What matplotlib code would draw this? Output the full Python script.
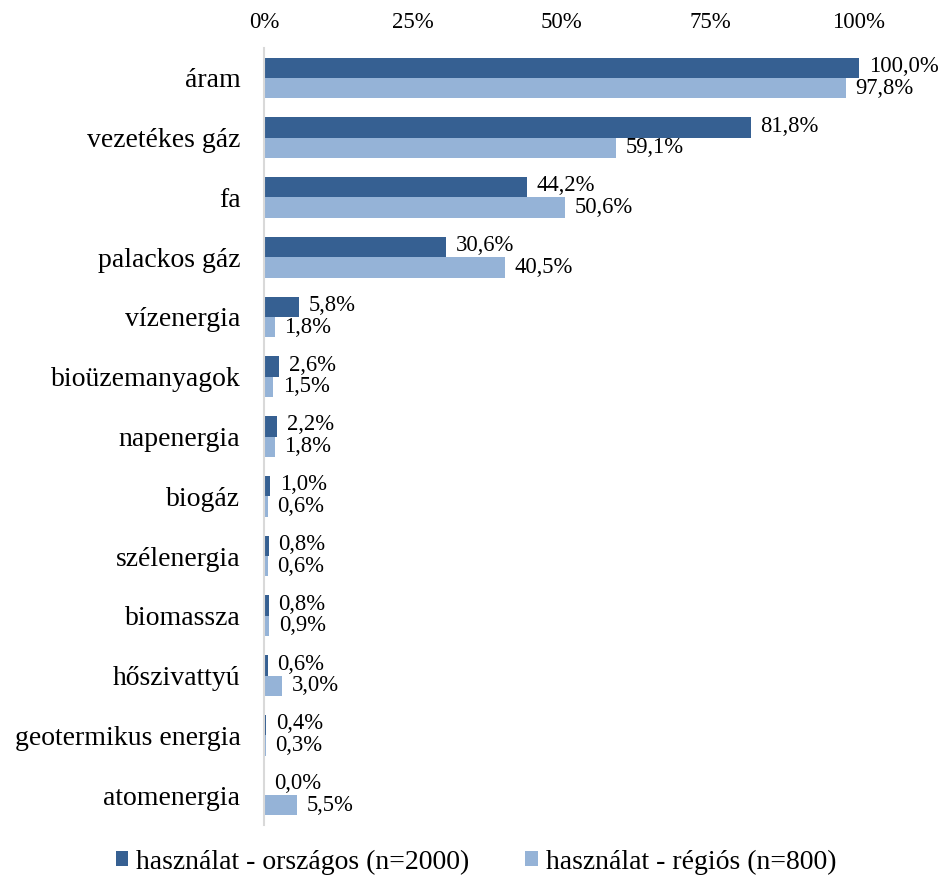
import matplotlib
matplotlib.use("Agg")
import matplotlib.pyplot as plt
import numpy as np
from matplotlib.ticker import FixedLocator

plt.rcParams['font.family'] = ['Liberation Serif', 'DejaVu Serif']

categories = ["áram", "vezetékes gáz", "fa", "palackos gáz", "vízenergia",
              "bioüzemanyagok", "napenergia", "biogáz", "szélenergia",
              "biomassza", "hőszivattyú", "geotermikus energia", "atomenergia"]
orszagos = [100.0, 81.8, 44.2, 30.6, 5.8, 2.6, 2.2, 1.0, 0.8, 0.8, 0.6, 0.4, 0.0]
regios = [97.8, 59.1, 50.6, 40.5, 1.8, 1.5, 1.8, 0.6, 0.6, 0.9, 3.0, 0.3, 5.5]
series_names = ["használat - országos (n=2000)", "használat - régiós (n=800)"]
xticks = [0, 25, 50, 75, 100]
xticklabels = ["0%", "25%", "50%", "75%", "100%"]

c_dark = "#366092"
c_light = "#95B3D7"

fig = plt.figure(figsize=(9.46, 8.84), dpi=100)
ax = fig.add_axes([264/946, 1-825/884, (859-264)/946, (825-48)/884])

y = np.arange(len(categories))
h = 0.34
b1 = ax.barh(y - h/2, orszagos, height=h, color=c_dark, label=series_names[0])
b2 = ax.barh(y + h/2, regios, height=h, color=c_light, label=series_names[1])

def fmt(v):
    return f"{v:.1f}%".replace(".", ",")

for yi, v in zip(y, orszagos):
    ax.annotate(fmt(v), (v, yi - h/2), xytext=(7, 1), textcoords="offset points",
                va="center", ha="left", fontsize=16.3)
for yi, v in zip(y, regios):
    ax.annotate(fmt(v), (v, yi + h/2), xytext=(7, 0), textcoords="offset points",
                va="center", ha="left", fontsize=16.3)

ax.set_xlim(0, 100)
ax.set_ylim(len(categories) - 0.5, -0.5)
ax.xaxis.tick_top()
ax.xaxis.set_major_locator(FixedLocator(xticks))
ax.set_xticklabels(xticklabels, fontsize=16.5)
ax.set_yticks(y)
ax.set_yticklabels(categories, fontsize=20)
ax.tick_params(axis="x", length=0, pad=11)
ax.tick_params(axis="y", length=0, pad=17)
for s in ["top", "right", "bottom"]:
    ax.spines[s].set_visible(False)
ax.spines["left"].set_color("#D9D9D9")
ax.spines["left"].set_linewidth(1.5)

fig.legend(handles=[b1, b2], labels=series_names, loc="center",
           bbox_to_anchor=(476/946, 1-862/884), ncol=2, frameon=False,
           fontsize=20, handlelength=0.45, handleheight=0.45, handletextpad=0.3,
           columnspacing=2.0)

fig.savefig("out.png", dpi=100)
